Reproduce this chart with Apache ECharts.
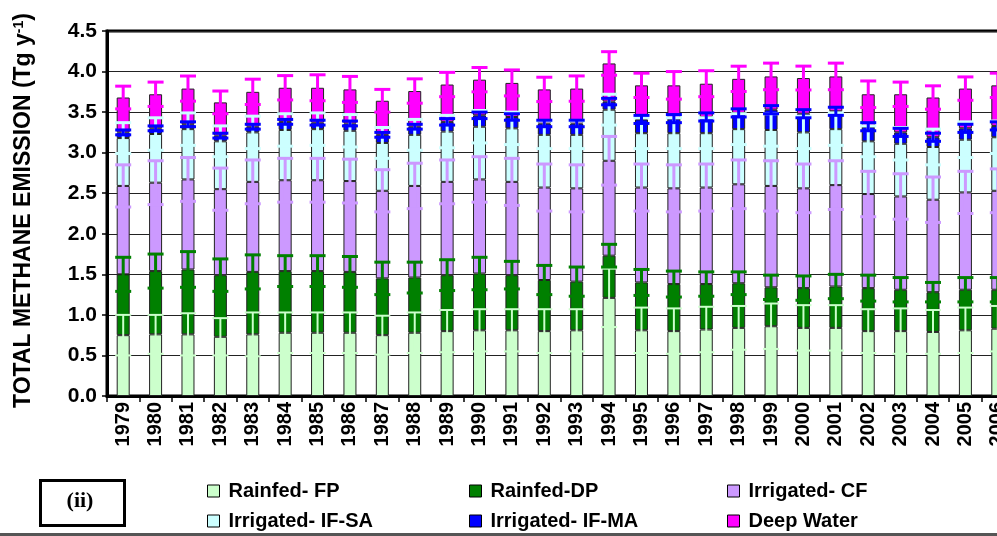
<!DOCTYPE html>
<html>
<head>
<meta charset="utf-8">
<script src="https://cdn.jsdelivr.net/npm/echarts@6/dist/echarts.min.js"></script>
<style>
html,body{margin:0;padding:0;background:#fff;overflow:hidden;width:997px;height:536px;}
#chart{width:1030px;height:536px;}
</style>
</head>
<body>
<div id="chart"></div>
<script>
const years = ['1979','1980','1981','1982','1983','1984','1985','1986','1987','1988','1989','1990','1991','1992','1993','1994','1995','1996','1997','1998','1999','2000','2001','2002','2003','2004','2005','2006'];
const yTicks = ['0.0','0.5','1.0','1.5','2.0','2.5','3.0','3.5','4.0','4.5'];

const rainfedFP    = [0.75,0.76,0.76,0.73,0.76,0.78,0.78,0.78,0.75,0.78,0.80,0.81,0.81,0.80,0.81,1.21,0.81,0.80,0.82,0.84,0.86,0.84,0.84,0.80,0.80,0.79,0.81,0.83];
const rainfedDP    = [0.75,0.78,0.80,0.76,0.77,0.76,0.76,0.75,0.70,0.68,0.69,0.70,0.68,0.63,0.60,0.52,0.59,0.58,0.56,0.55,0.48,0.49,0.51,0.53,0.51,0.49,0.50,0.48];
const irrigatedCF  = [1.09,1.09,1.11,1.06,1.11,1.12,1.12,1.12,1.08,1.13,1.15,1.16,1.15,1.14,1.15,1.17,1.17,1.18,1.19,1.22,1.25,1.23,1.25,1.16,1.15,1.14,1.20,1.22];
const irrigatedSA  = [0.59,0.60,0.62,0.59,0.61,0.62,0.63,0.62,0.59,0.63,0.62,0.65,0.66,0.65,0.66,0.63,0.67,0.68,0.67,0.68,0.69,0.69,0.69,0.65,0.65,0.65,0.65,0.66];
const irrigatedMA  = [0.07,0.07,0.06,0.07,0.07,0.10,0.08,0.09,0.10,0.10,0.12,0.14,0.14,0.14,0.14,0.10,0.17,0.18,0.20,0.20,0.25,0.23,0.22,0.18,0.14,0.12,0.14,0.14];
const deepWater    = [0.43,0.42,0.44,0.41,0.43,0.42,0.43,0.42,0.42,0.44,0.46,0.44,0.42,0.42,0.43,0.47,0.42,0.41,0.41,0.42,0.41,0.44,0.43,0.40,0.47,0.49,0.49,0.50];

const errFP = [0.25,0.24,0.26,0.23,0.27,0.25,0.25,0.25,0.24,0.25,0.26,0.26,0.26,0.27,0.26,0.36,0.28,0.28,0.28,0.27,0.28,0.28,0.28,0.27,0.28,0.27,0.28,0.28];
const errDP = [0.21,0.21,0.22,0.20,0.21,0.19,0.19,0.19,0.20,0.19,0.19,0.20,0.17,0.18,0.18,0.14,0.16,0.16,0.15,0.14,0.15,0.15,0.15,0.16,0.15,0.12,0.15,0.15];
const errCF = [0.26,0.27,0.27,0.26,0.27,0.27,0.27,0.27,0.26,0.28,0.27,0.28,0.29,0.29,0.29,0.30,0.29,0.29,0.29,0.30,0.31,0.30,0.30,0.28,0.28,0.28,0.26,0.27];
const errSA = [0.19,0.20,0.20,0.19,0.20,0.20,0.20,0.20,0.19,0.19,0.20,0.20,0.20,0.17,0.17,0.19,0.19,0.19,0.19,0.19,0.20,0.20,0.20,0.19,0.20,0.22,0.22,0.20];
const errMA = [0.03,0.03,0.03,0.03,0.03,0.03,0.03,0.03,0.03,0.03,0.04,0.04,0.04,0.04,0.04,0.04,0.05,0.05,0.05,0.05,0.05,0.05,0.05,0.05,0.05,0.05,0.05,0.05];
const errDW = [0.14,0.15,0.155,0.14,0.156,0.15,0.16,0.16,0.14,0.15,0.15,0.15,0.16,0.15,0.156,0.145,0.15,0.17,0.16,0.156,0.164,0.147,0.164,0.164,0.15,0.144,0.144,0.15];

const names = ['Rainfed- FP','Rainfed-DP','Irrigated- CF','Irrigated- IF-SA','Irrigated- IF-MA','Deep Water'];
const colors = ['#ccffcc','#008000','#cc99ff','#ccffff','#0000ff','#ff00ff'];
const values = [rainfedFP, rainfedDP, irrigatedCF, irrigatedSA, irrigatedMA, deepWater];
const errors = [errFP, errDP, errCF, errSA, errMA, errDW];

const chart = echarts.init(document.getElementById('chart'), null, {renderer:'canvas'});

const FONT = 'Arial, "Liberation Sans", sans-serif';

const series = [];
values.forEach((arr, i) => {
  series.push({
    name: names[i], type: 'bar', stack: 'total', barWidth: 13,
    itemStyle: {color: colors[i], borderColor: '#222', borderWidth: 1},
    data: arr, z: 2
  });
});
const cum = years.map(() => 0);
values.forEach((arr, i) => {
  const data = arr.map((v, k) => { cum[k] += v; return [k, +cum[k].toFixed(3), errors[i][k]]; });
  series.push({
    type: 'custom', name: names[i] + ' err', z: 5, silent: true,
    data: data,
    renderItem: function (params, api) {
      const x = api.value(0), top = api.value(1), e = api.value(2);
      const p1 = api.coord([x, top + e]);
      const p2 = api.coord([x, top - e]);
      const hc = 8;
      const st = {stroke: colors[i], lineWidth: i === 0 ? 2 : 3};
      return {type: 'group', children: [
        {type: 'line', shape: {x1: p1[0], y1: p1[1], x2: p2[0], y2: p2[1]}, style: st},
        {type: 'line', shape: {x1: p1[0]-hc, y1: p1[1], x2: p1[0]+hc, y2: p1[1]}, style: st},
        {type: 'line', shape: {x1: p2[0]-hc, y1: p2[1], x2: p2[0]+hc, y2: p2[1]}, style: st}
      ]};
    }
  });
});

const legendText = {color: '#000', fontSize: 20, fontWeight: 'bold', fontFamily: FONT, padding: [0,0,0,4]};
function mkLegend(left, top, name) {
  return {left: left, top: top, orient: 'horizontal', itemWidth: 12, itemHeight: 12, padding: 0,
    icon: 'rect', data: [name], textStyle: legendText, selectedMode: false,
    itemStyle: {borderColor: '#000', borderWidth: 1}};
}
const colX = [207, 469, 727];
const rowY = [481, 511];

chart.setOption({
  animation: false,
  backgroundColor: '#fff',
  grid: {left: 107, top: 31, width: 907, height: 365, show: true, borderColor: '#000', borderWidth: 3, backgroundColor: 'transparent'},
  legend: [
    mkLegend(colX[0], rowY[0], names[0]),
    mkLegend(colX[1], rowY[0], names[1]),
    mkLegend(colX[2], rowY[0], names[2]),
    mkLegend(colX[0], rowY[1], names[3]),
    mkLegend(colX[1], rowY[1], names[4]),
    mkLegend(colX[2], rowY[1], names[5])
  ],
  xAxis: {
    type: 'category', data: years,
    axisLine: {lineStyle: {color: '#000', width: 3}},
    axisTick: {show: true, alignWithLabel: false, length: 6, lineStyle: {color: '#000', width: 1.5}},
    axisLabel: {rotate: 90, color: '#000', fontSize: 20, fontWeight: 'bold', fontFamily: FONT, margin: 6, interval: 0}
  },
  yAxis: {
    type: 'value', min: 0, max: 4.5, interval: 0.5,
    name: '{a|TOTAL METHANE EMISSION (Tg y}{s|-1}{a|)}',
    nameLocation: 'middle', nameGap: 72, nameRotate: 90,
    nameTextStyle: {padding: [0, 0, 0, 6], rich: {
      a: {fontSize: 23, fontWeight: 'bold', color: '#000', fontFamily: FONT},
      s: {fontSize: 14, fontWeight: 'bold', color: '#000', fontFamily: FONT, verticalAlign: 'top', padding: [0,0,9,0]}
    }},
    axisLine: {show: true, lineStyle: {color: '#000', width: 3}},
    axisTick: {show: true, length: 5, lineStyle: {color: '#000', width: 1.5}},
    axisLabel: {color: '#000', fontSize: 21, fontWeight: 'bold', fontFamily: FONT, margin: 10,
      formatter: function (v) { return yTicks[Math.round(v / 0.5)]; }},
    splitLine: {show: true, lineStyle: {color: '#222', width: 1.2}}
  },
  graphic: [
    {type: 'rect', left: 38, top: 478, shape: {width: 84, height: 45}, style: {fill: 'none', stroke: '#000', lineWidth: 3}},
    {type: 'text', x: 80, y: 501, style: {text: '(ii)', font: 'bold 22px "Liberation Serif", "Times New Roman", serif', fill: '#000', textAlign: 'center', textVerticalAlign: 'middle'}},
    {type: 'rect', left: 0, top: 533, shape: {width: 1030, height: 3}, style: {fill: '#555'}}
  ],
  series: series
});
</script>
</body>
</html>
